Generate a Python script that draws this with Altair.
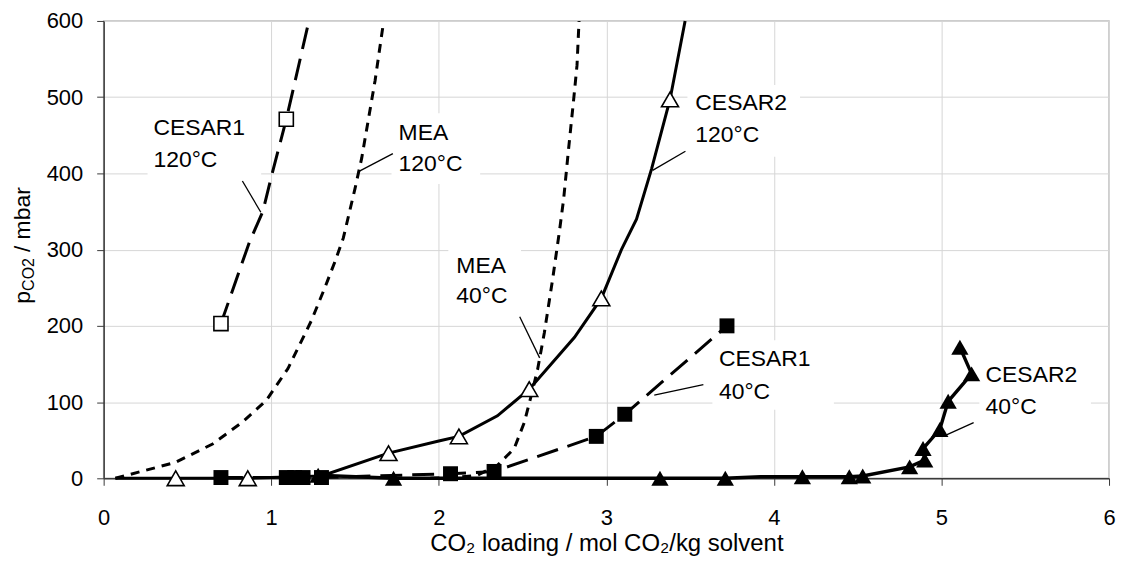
import altair as alt
import pandas as pd

FONT = "Liberation Sans"

# ---------------- data ----------------
# CESAR1 120°C (open squares, long dash); last point = where the line leaves the top
c1_120_x = [0.70, 0.87, 0.95, 1.00, 1.09, 1.225]
c1_120_y = [203, 310, 350, 395, 471, 600]
c1_120_mx = [0.70, 1.09]
c1_120_my = [203, 471]

# MEA 120°C (short dash, no markers)
mea_120_x = [0.07, 0.43, 0.65, 0.83, 0.97, 1.10, 1.24, 1.32, 1.38, 1.43, 1.50, 1.54, 1.62, 1.67]
mea_120_y = [0, 21, 45, 74, 102, 144, 207, 250, 284, 315, 380, 420, 522, 598]

# MEA 40°C (short dash, no markers)
mea_40_x = [1.95, 2.10, 2.23, 2.35, 2.45, 2.51, 2.55, 2.59, 2.63, 2.68, 2.72, 2.745, 2.775, 2.805, 2.825, 2.837]
mea_40_y = [0, 1, 4, 17, 39, 73, 107, 143, 191, 262, 324, 366, 433, 497, 542, 600]

# CESAR2 120°C (open triangles, solid)
c2_120_x = [0.07, 0.43, 0.86, 1.30, 1.70, 2.00, 2.12, 2.35, 2.54, 2.81, 2.97, 3.09, 3.18, 3.27, 3.38, 3.47]
c2_120_y = [0, 0, 0, 3, 33, 49, 55, 82, 117, 185, 236, 300, 340, 406, 497, 600]
c2_120_mx = [0.43, 0.86, 1.70, 2.12, 2.54, 2.97, 3.38]
c2_120_my = [0, 0, 33, 55, 117, 236, 497]

# CESAR1 40°C (filled squares, long dash)
c1_40_x = [0.70, 1.09, 1.14, 1.19, 1.30, 2.07, 2.33, 2.94, 3.11, 3.72]
c1_40_y = [1, 1, 1, 1, 1, 6, 9, 55, 84, 200]

# CESAR2 40°C (filled triangles, solid)
c2_40_x = [1.28, 1.73, 3.32, 3.71, 3.92, 4.17, 4.45, 4.53, 4.81, 4.90, 4.89, 4.99, 5.04, 5.18, 5.11]
c2_40_y = [4, 0, 0, 0, 2, 2, 2, 3, 15, 24, 39, 64, 101, 137, 172]
c2_40_mx = [1.28, 1.73, 3.32, 3.71, 4.17, 4.45, 4.53, 4.81, 4.90, 4.89, 4.99, 5.04, 5.18, 5.11]
c2_40_my = [4, 0, 0, 0, 2, 2, 3, 15, 24, 39, 64, 101, 137, 172]

# annotations (data coordinates)
ann_name = ["CESAR1", "MEA", "CESAR2", "MEA", "CESAR1", "CESAR2"]
ann_temp = ["120°C", "120°C", "120°C", "40°C", "40°C", "40°C"]
ann_x = [0.297, 1.76, 3.531, 2.105, 3.672, 5.263]
ann_y1 = [459, 453, 492, 279, 157, 135]
ann_y2 = [417, 412, 451, 239, 113, 94]
lead_x1 = [0.828, 1.518, 3.276, 2.483, 3.286, 5.030]
lead_y1 = [390, 402, 404, 212, 109, 57]
lead_x2 = [0.938, 1.726, 3.472, 2.602, 3.579, 5.192]
lead_y2 = [349, 426, 429, 158, 123, 73]
box_x1 = [0.262, 1.718, 3.484, 2.057, 3.633, 5.226]
box_x2 = [0.940, 2.247, 4.156, 2.491, 4.358, 5.892]
box_y1 = [391, 386, 422, 217, 90, 70]
box_y2 = [482, 479, 516, 310, 181, 158]

x_ticks = [0, 1, 2, 3, 4, 5, 6]
y_ticks = [0, 100, 200, 300, 400, 500, 600]

# ---------------- chart ----------------
AX = "#3a3a3a"
GRID = "#d6d6d6"

xscale = alt.Scale(domain=[0, 6], nice=False, zero=False)
yscale = alt.Scale(domain=[0, 600], nice=False)

xaxis = alt.Axis(values=x_ticks, format="d", title="CO₂ loading / mol CO₂/kg solvent",
                 labelFont=FONT, labelFontSize=22, labelColor="black",
                 titleFont=FONT, titleFontSize=24, titleFontWeight="normal", titleColor="black",
                 tickSize=7, tickColor=AX, domainColor=AX, domainWidth=1.5,
                 labelPadding=22, titlePadding=3, labelFlush=False, labelOverlap=False,
                 gridColor=GRID, gridWidth=1)
yaxis = alt.Axis(values=y_ticks, format="d", title=None,
                 labelFont=FONT, labelFontSize=22, labelColor="black",
                 tickSize=7, tickColor=AX, domainColor=AX, domainWidth=1.5,
                 labelPadding=14, labelFlush=False, labelOverlap=False,
                 gridColor=GRID, gridWidth=1)

X = alt.X("x:Q", scale=xscale, axis=xaxis)
Y = alt.Y("y:Q", scale=yscale, axis=yaxis)


def df(xs, ys):
    return pd.DataFrame({"x": xs, "y": ys, "i": list(range(len(xs)))})


def line(xs, ys, dash=None, width=3.0):
    kw = dict(color="black", strokeWidth=width)
    if dash:
        kw["strokeDash"] = dash
    return alt.Chart(df(xs, ys)).mark_line(**kw).encode(x=X, y=Y, order="i:Q")


def pts(xs, ys, shape, size, filled):
    if filled:
        m = alt.Chart(df(xs, ys)).mark_point(shape=shape, size=size, filled=True,
                                             color="black", opacity=1)
    else:
        m = alt.Chart(df(xs, ys)).mark_point(shape=shape, size=size, filled=True,
                                             fill="white", stroke="black", strokeWidth=1.6,
                                             opacity=1, fillOpacity=1)
    return m.encode(x=X, y=Y)


grid_base = alt.Chart(pd.DataFrame({"x": [0], "y": [0]})).mark_point(opacity=0).encode(x=X, y=Y)

boxes = alt.Chart(pd.DataFrame({"x": box_x1, "x2": box_x2, "y": box_y1, "y2": box_y2})).mark_rect(
    color="white").encode(x=X, x2="x2:Q", y=Y, y2="y2:Q")

LONG = [22, 10]
SHORT = [9, 7]

lines = [
    line(mea_120_x, mea_120_y, SHORT),
    line(mea_40_x, mea_40_y, SHORT),
    line(c1_120_x, c1_120_y, LONG),
    line(c1_40_x, c1_40_y, LONG),
    line(c2_120_x, c2_120_y),
    line(c2_40_x, c2_40_y, width=3.4),
]
markers = [
    pts(c1_120_mx, c1_120_my, "square", 200, False),
    pts(c2_120_mx, c2_120_my, "triangle-up", 290, False),
    pts(c1_40_x, c1_40_y, "square", 225, True),
    pts(c2_40_mx, c2_40_my, "triangle-up", 300, True),
]

ann = pd.DataFrame({"x": ann_x, "y": ann_y1, "y2": ann_y2, "name": ann_name, "temp": ann_temp})
txt1 = alt.Chart(ann).mark_text(align="left", baseline="middle", font=FONT, fontSize=23,
                                color="black").encode(x=X, y=Y, text="name:N")
txt2 = alt.Chart(ann).mark_text(align="left", baseline="middle", font=FONT, fontSize=23,
                                color="black").encode(x=X, y=alt.Y("y2:Q", scale=yscale), text="temp:N")

leaders = alt.Chart(pd.DataFrame({"x": lead_x1, "y": lead_y1, "x2": lead_x2, "y2": lead_y2})).mark_rule(
    color="black", strokeWidth=1.3).encode(x=X, y=Y, x2="x2:Q", y2="y2:Q")

# y-axis title "p_CO2 / mbar" composed of pieces (subscript smaller)
one = pd.DataFrame({"k": [0]})
YT_X = -74
YT_J = 238
yt_main = alt.Chart(one).mark_text(text="/ mbar", angle=270, align="left", baseline="alphabetic",
                                   font=FONT, fontSize=23, color="black").encode(
    x=alt.value(YT_X), y=alt.value(YT_J - 6))
yt_sub = alt.Chart(one).mark_text(text="CO2", angle=270, align="right", baseline="alphabetic",
                                  font=FONT, fontSize=16, color="black", dy=4).encode(
    x=alt.value(YT_X), y=alt.value(YT_J))
yt_p = alt.Chart(one).mark_text(text="p", angle=270, align="right", baseline="alphabetic",
                                font=FONT, fontSize=23, color="black").encode(
    x=alt.value(YT_X), y=alt.value(YT_J + 33))

chart = alt.layer(
    grid_base, boxes, *lines, leaders, *markers, txt1, txt2, yt_main, yt_sub, yt_p
).properties(
    width=1009, height=459,
    autosize=alt.AutoSizeParams(type="none"),
    padding={"left": 96, "top": 12, "right": 8, "bottom": 82},
    background="white",
).configure_view(stroke="#bdbdbd", strokeWidth=1.5)

chart.save("out.html", embed_options={"renderer": "svg", "actions": False})
